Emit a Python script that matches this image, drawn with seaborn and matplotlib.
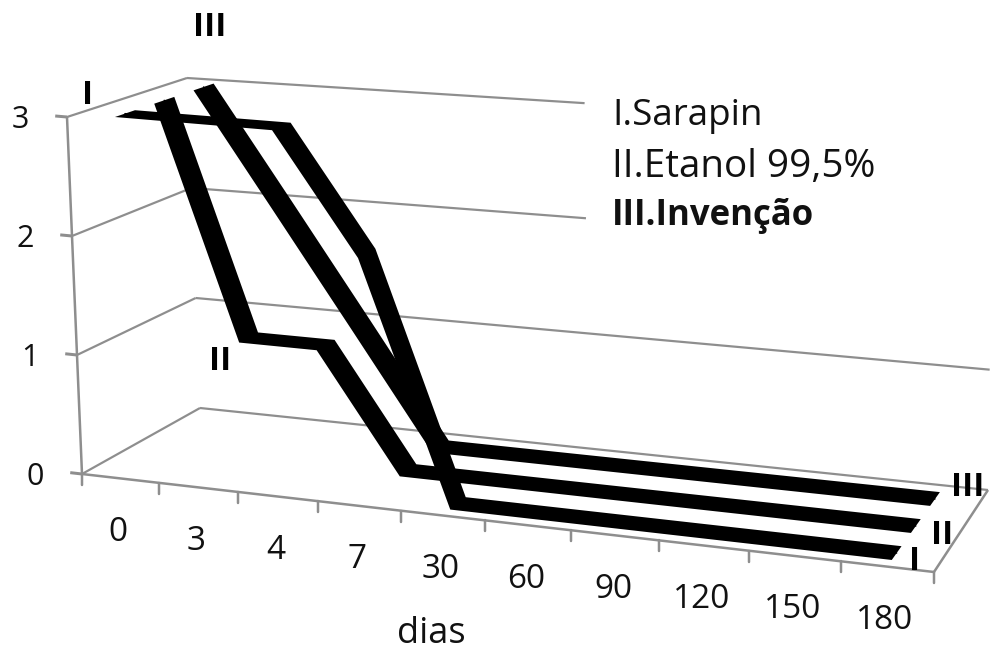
import numpy as np
import pandas as pd
import matplotlib
matplotlib.use("Agg")
import matplotlib.pyplot as plt
import seaborn as sns

# ---- data ----
dias = ["0", "3", "4", "7", "30", "60", "90", "120", "150", "180"]
sarapin = [3, 3, 3, 2, 0, 0, 0, 0, 0, 0]
etanol = [3, 1, 1, 0, 0, 0, 0, 0, 0, 0]
invencao = [3, 2, 1, 0, 0, 0, 0, 0, 0, 0]
series_names = ["I", "II", "III"]
y_ticks = [0, 1, 2, 3]
legend_lines = ["I.Sarapin", "II.Etanol 99,5%", "III.Invenção"]

# ---- style ----
sns.set_theme(style="white")
plt.rcParams["font.family"] = ["Open Sans", "DejaVu Sans"]
GRAY = "#8e8e8e"
PX = 0.72  # points per pixel at dpi 100

fig = plt.figure(figsize=(9.91, 6.58), dpi=100)
ax = fig.add_axes([0, 0, 1, 1])
ax.set_xlim(0, 991)
ax.set_ylim(658, 0)
ax.axis("off")

# 3-D box of the chart: (category, value, depth) -> picture position
BOX = {  # (u, v, w)
    (0, 0, 0): (82, 474), (0, 1, 0): (67, 117),
    (0, 0, 1): (200, 408), (0, 1, 1): (187, 78),
    (1, 0, 0): (934, 572), (1, 1, 0): (920, 190),
    (1, 0, 1): (988, 490), (1, 1, 1): (993, 129),
}
PERSPECTIVE = 0.893  # nearer categories on the right are drawn wider


def project(x, y, d):
    """x = category position, y = value, d = depth 0..1."""
    u = (np.asarray(x, float) + 0.5) / len(dias)
    u = PERSPECTIVE * u + (1 - PERSPECTIVE) * u ** 2
    v = np.asarray(y, float) / max(y_ticks)
    u, v, w = np.broadcast_arrays(u, v, np.asarray(d, float))
    px, py = 0.0, 0.0
    for (a, b, c), (cx, cy) in BOX.items():
        k = (u if a else 1 - u) * (v if b else 1 - v) * (w if c else 1 - w)
        px = px + k * cx
        py = py + k * cy
    return px, py


def frame(x, y, d, lw=2.2, **kw):
    px, py = project(x, y, d)
    ax.plot(px, py, color=GRAY, lw=lw * PX, solid_capstyle="butt", zorder=1, **kw)


n = len(dias)
x_lo, x_hi = -0.5, n - 0.5
x_cut = x_lo + 0.52 * n  # the upper grid lines stop at the legend box

# walls
for t in y_ticks:
    right = x_cut if t >= 2 else x_hi
    frame([x_lo, x_lo], [t, t], [0, 1])
    frame([x_lo, right], [t, t], [1, 1])
    frame([x_lo - 0.155, x_lo], [t, t], [0, 0], lw=3)
    px, py = project(x_lo, t, 0)
    ax.text(px - 47, py + 3, str(t), fontsize=22, ha="center", va="center",
            color="#111111")
frame([x_lo, x_lo], [0, max(y_ticks)], [0, 0], lw=2.5)
frame([x_lo, x_hi], [0, 0], [0, 0], lw=2.5)
frame([x_hi, x_hi], [0, 0], [0, 1], lw=2.5)

# category ticks and labels
for i in range(n + 1):
    px, py = project(x_lo + i, 0, 0)
    ax.plot([px, px], [py, py + 11], color=GRAY, lw=2.5 * PX, zorder=1)
for i, lab in enumerate(dias):
    px, py = project(i, 0, 0)
    ax.text(px - 2, py + 54, lab, fontsize=24, ha="center", va="center",
            color="#111111")
ax.text(431, 634, "dias", fontsize=26, ha="center", va="center", color="#111111")

# series as flat ribbons in the depth direction
depths = [1 / 6, 1 / 2, 5 / 6]
half = 0.085
positions = np.arange(n)
for vals, d, name in zip([sarapin, etanol, invencao], depths, series_names):
    x0, y0 = project(positions, vals, d - half)
    x1, y1 = project(positions, vals, d + half)
    ax.fill(np.r_[x0, x1[::-1]], np.r_[y0, y1[::-1]], color="black", lw=0, zorder=3)
    cx, cy = project(positions, vals, d)
    sns.lineplot(data=pd.DataFrame({"x": cx, "y": cy}), x="x", y="y", sort=False,
                 estimator=None, color="black", lw=1, ax=ax, zorder=3, legend=False)

ax.set_xlim(0, 991)
ax.set_ylim(658, 0)
ax.axis("off")

# series numerals
for s, xp, yp in [("I", 88, 95), ("III", 210, 28), ("II", 220, 361),
                  ("III", 968, 488), ("II", 942, 535), ("I", 915, 562)]:
    ax.text(xp, yp, s, fontsize=24, fontweight="bold", ha="center", va="center",
            color="black", zorder=5)

# legend text
for s, yp, weight, size in zip(legend_lines, [116, 167, 216],
                               ["normal", "normal", "bold"], [26.5, 27.8, 25]):
    ax.text(612, yp, s, fontsize=size, fontweight=weight, ha="left", va="center",
            color="#111111", zorder=5)

fig.savefig("out.png", dpi=100, facecolor="white")
